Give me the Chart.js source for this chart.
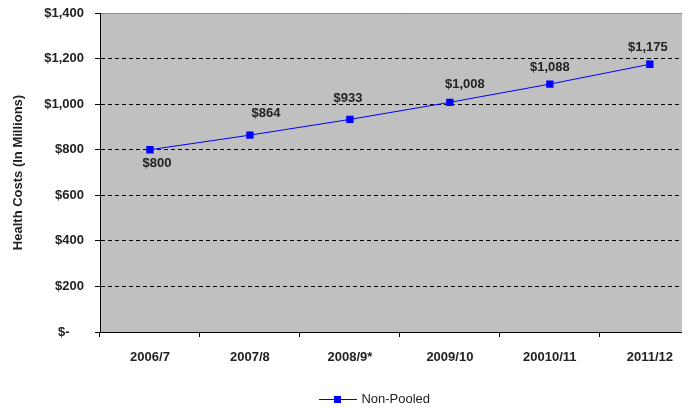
<!DOCTYPE html>
<html>
<head>
<meta charset="utf-8">
<script src="https://cdn.jsdelivr.net/npm/chart.js@4"></script>
<style>
  body { margin: 0; background: #fff; }
  #wrap { width: 682px; height: 407px; overflow: hidden; }
</style>
</head>
<body>
<div id="wrap"><canvas id="costChart" width="705" height="407"></canvas></div>
<script>
const categories = ['2006/7', '2007/8', '2008/9*', '2009/10', '20010/11', '2011/12'];
const nonPooled = [800, 864, 933, 1008, 1088, 1175];
const yMin = 0;
const yMax = 1400;
const yStep = 200;

const FONT = "'Liberation Sans', Arial, sans-serif";

// label nudges relative to each point (px)
const labelOffsets = [[7, 14], [16, -22], [-2, -21], [15, -18], [0, -17], [-2, -17]];

const money = v => v === 0 ? '$-    ' : '$' + v.toLocaleString('en-US');

// legend swatch: line with a square marker
const swatch = document.createElement('canvas');
swatch.width = 38;
swatch.height = 9;
const sctx = swatch.getContext('2d');
sctx.fillStyle = '#0000ff';
sctx.fillRect(0, 4, 38, 1);
sctx.fillRect(15, 1, 7, 7);

const plotBackground = {
    id: 'plotBackground',
    beforeDraw(chart) {
        const { ctx, chartArea: a } = chart;
        ctx.save();
        ctx.fillStyle = '#c0c0c0';
        ctx.fillRect(a.left, a.top, a.right - a.left, a.bottom - a.top);
        ctx.restore();
    }
};

const pointLabels = {
    id: 'pointLabels',
    afterDatasetsDraw(chart) {
        const { ctx } = chart;
        const meta = chart.getDatasetMeta(0);
        ctx.save();
        ctx.font = 'bold 13px ' + FONT;
        ctx.fillStyle = '#222';
        ctx.textAlign = 'center';
        ctx.textBaseline = 'middle';
        meta.data.forEach((pt, i) => {
            const [dx, dy] = labelOffsets[i];
            ctx.fillText(money(nonPooled[i]), pt.x + dx, pt.y + dy);
        });
        ctx.restore();
    }
};

const legendShift = {
    id: 'legendShift',
    afterLayout(chart) {
        const lg = chart.legend;
        lg.left += 23;
        lg.right += 23;
        lg.top += 9;
        lg.bottom += 9;
    }
};

const ctx = document.getElementById('costChart').getContext('2d');
new Chart(ctx, {
    type: 'line',
    data: {
        labels: categories,
        datasets: [{
            label: 'Non-Pooled',
            data: nonPooled,
            borderColor: '#0000ff',
            backgroundColor: '#0000ff',
            borderWidth: 1,
            pointStyle: 'rect',
            pointRadius: 5.2,
            pointBorderWidth: 0,
            tension: 0
        }]
    },
    options: {
        responsive: false,
        animation: false,
        layout: { padding: { top: 13, right: 0, bottom: 0, left: 0 } },
        plugins: {
            tooltip: { enabled: false },
            legend: {
                position: 'bottom',
                labels: {
                    usePointStyle: true,
                    pointStyle: swatch,
                    pointStyleWidth: 34,
                    boxHeight: 9,
                    padding: 6,
                    color: '#222',
                    font: { family: FONT, size: 13 }
                }
            }
        },
        scales: {
            x: {
                offset: true,
                afterFit: s => { s.height = 46; },
                grid: {
                    offset: true,
                    drawOnChartArea: false,
                    drawTicks: true,
                    tickLength: 5,
                    tickColor: '#000'
                },
                border: { display: true, color: '#000', width: 1 },
                ticks: {
                    padding: 13,
                    color: '#222',
                    font: { family: FONT, size: 13, weight: 'bold' }
                }
            },
            y: {
                min: yMin,
                max: yMax,
                afterFit: s => {
                    s.width = 100;
                    s.paddingTop = 0;
                    s.paddingBottom = 0;
                },
                grid: {
                    color: c => c.tick && c.tick.value === yMax ? '#8c8c8c' : '#000',
                    lineWidth: 1,
                    drawTicks: true,
                    tickLength: 5,
                    tickColor: '#000'
                },
                border: {
                    display: true,
                    color: '#000',
                    width: 1,
                    dash: c => c.tick && c.tick.value === yMax ? [] : [4, 3]
                },
                ticks: {
                    stepSize: yStep,
                    padding: 11,
                    color: '#222',
                    font: { family: FONT, size: 13, weight: 'bold' },
                    callback: v => money(v)
                },
                title: {
                    display: true,
                    text: 'Health Costs (In Millions)',
                    color: '#222',
                    padding: { top: 11, bottom: 0 },
                    font: { family: FONT, size: 13, weight: 'bold' }
                }
            }
        }
    },
    plugins: [plotBackground, pointLabels, legendShift]
});
</script>
</body>
</html>
